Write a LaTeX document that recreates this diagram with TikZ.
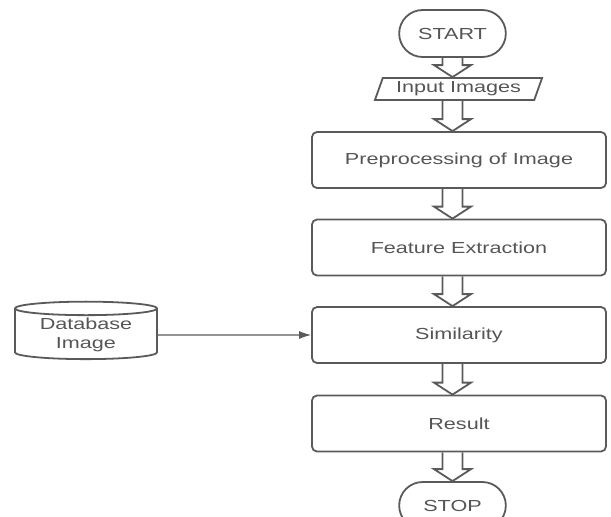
\documentclass[tikz,border=0pt]{standalone}
\usepackage{fontspec}
\setmainfont[FakeStretch=1.35]{Liberation Sans}
\usetikzlibrary{shapes.geometric,shapes.misc,arrows.meta,calc}
\definecolor{edgegray}{HTML}{5A5A5A}
\definecolor{textgray}{HTML}{555555}

\begin{document}
\begin{tikzpicture}[x=0.5pt,y=-0.5pt,line width=0.9pt,
  every node/.style={draw=edgegray,text=textgray,font=\fontsize{8}{9.5}\selectfont},
  terminal/.style={rounded rectangle,minimum width=60pt,minimum height=23.5pt},
  process/.style={rectangle,rounded corners=2.5pt,minimum width=147pt,minimum height=28pt},
  io/.style={trapezium,trapezium left angle=70,trapezium right angle=110,trapezium stretches=true,minimum width=84pt,minimum height=11pt,inner sep=1pt},
  store/.style={cylinder,shape border rotate=90,aspect=0.14,minimum width=71pt,minimum height=28pt,align=center,inner sep=1pt}]
\useasboundingbox (0,0) rectangle (611,516);
\node[terminal] (start) at (452.5,33.5) {START};
\node[io] (input) at (458.5,89) {Input Images};
\node[process] (prep) at (459,160) {Preprocessing of Image};
\node[process] (feat) at (459,247.5) {Feature Extraction};
\node[process] (sim) at (459,335) {Similarity};
\node[process] (res) at (459,423.5) {Result};
\node[terminal] (stop) at (452.5,505.5) {STOP};
\node[store] (db) at (86,335) {Database\\Image};
\foreach \a/\b in {start/input,input/prep,prep/feat,feat/sim,sim/res,res/stop}
  \draw[edgegray] let \p1=(\a.south -| start),\p2=(\b.north -| start) in
    (\x1-5pt,\y1) -- (\x1-5pt,\y2+6pt) -- (\x1-9.25pt,\y2+6pt) -- (\x2,\y2)
    -- (\x1+9.25pt,\y2+6pt) -- (\x1+5pt,\y2+6pt) -- (\x1+5pt,\y1);
\draw[edgegray,line width=0.6pt,-{Latex[length=6pt,width=4pt]}] (db) -- (sim);
\end{tikzpicture}
\end{document}
